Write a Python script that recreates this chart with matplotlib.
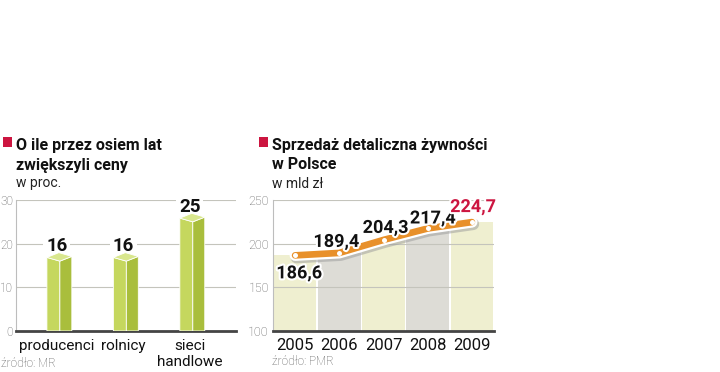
import matplotlib
matplotlib.use("Agg")
import matplotlib.pyplot as plt
from matplotlib.patches import Polygon, Rectangle
import matplotlib.patheffects as pe

plt.rcParams['font.family'] = ['Roboto', 'DejaVu Sans']

# ---- data ----
categories = ['producenci', 'rolnicy', 'sieci\nhandlowe']
price_rise = [16, 16, 25]
left_ticks = [0, 10, 20, 30]

years = ['2005', '2006', '2007', '2008', '2009']
sales = [186.6, 189.4, 204.3, 217.4, 224.7]
sales_labels = ['186,6', '189,4', '204,3', '217,4', '224,7']
right_ticks = [100, 150, 200, 250]

W, H = 720, 372
fig = plt.figure(figsize=(W / 100, H / 100), dpi=100)


def fx(x):
    return x / W


def fy(y):
    return 1 - y / H


def axrect(x0, x1, y0, y1):
    return [fx(x0), fy(y1), fx(x1) - fx(x0), (y1 - y0) / H]


RED = '#cc1540'
GRID = '#c4c4bc'
TICKC = '#5a5a5a'

# ---------------- Left chart ----------------
axL = fig.add_axes(axrect(16, 236, 200, 331))
axL.set_xlim(-0.66, 2.65)
axL.set_ylim(0, 30)
for s in ['top', 'right']:
    axL.spines[s].set_visible(False)
axL.spines['left'].set_color('#bdbdbd')
axL.spines['left'].set_linewidth(0.8)
axL.spines['bottom'].set_color('#444444')
axL.spines['bottom'].set_linewidth(2)
axL.set_yticks(left_ticks)
axL.set_yticklabels([str(t) for t in left_ticks], color=TICKC, fontsize=8.5, fontweight='light')
axL.tick_params(axis='y', length=0, pad=2)
axL.set_xticks([])
for t in left_ticks[1:]:
    axL.axhline(t, color=GRID, lw=0.8, zorder=1)

upx = 30 / 131.0
wl, wr = 0.195, 0.18
dl, dr, db = 3.7 * upx, 4.7 * upx, 8.5 * upx
FRONT, SIDE, TOP = '#c5d75e', '#a9be3c', '#d9e78e'
for i, v in enumerate(price_rise):
    c = i
    left_face = [(c - wl, 0), (c, 0), (c, v), (c - wl, v + dl)]
    right_face = [(c, 0), (c + wr, 0), (c + wr, v + dr), (c, v)]
    top_face = [(c - wl, v + dl), (c, v), (c + wr, v + dr), (c + wr - wl, v + db)]
    for pts, col in [(left_face, FRONT), (right_face, SIDE), (top_face, TOP)]:
        axL.add_patch(Polygon(pts, closed=True, facecolor=col, edgecolor='white',
                              lw=0.6, zorder=3, joinstyle='miter'))
    axL.annotate(str(v), xy=(c, v), xytext=(-3, 15), textcoords='offset pixels',
                 ha='center', va='center', fontsize=13.5, fontweight='bold',
                 color='#111111', zorder=2,
                 bbox=dict(boxstyle='square,pad=0.15', fc='white', ec='none'))

for i, lab in enumerate(categories):
    xp = axL.transData.transform((i, 0))[0]
    lines = lab.split('\n')
    for j, ln in enumerate(lines):
        fig.text(xp / W - 3 / W, fy(350 + 16 * j), ln, ha='center', va='baseline',
                 fontsize=11, color='#111111')

fig.patches.append(Rectangle((fx(3), fy(147)), 9 / W, 10 / H, transform=fig.transFigure,
                             facecolor=RED, edgecolor='none'))
fig.text(fx(16), fy(150), 'O ile przez osiem lat', fontsize=11.5, fontweight='bold',
         va='baseline', ha='left', color='#111111')
fig.text(fx(16), fy(170), 'zwiększyli ceny', fontsize=11.5, fontweight='bold',
         va='baseline', ha='left', color='#111111')
fig.text(fx(16), fy(187), 'w proc.', fontsize=10, va='baseline', ha='left', color='#222222')
fig.text(fx(1), fy(367), 'źródło: MR', fontsize=8.5, va='baseline', ha='left',
         color='#555555', fontweight='light')

# ---------------- Right chart ----------------
axR = fig.add_axes(axrect(273, 494, 200, 331))
axR.set_xlim(-0.5, 4.5)
axR.set_ylim(100, 250)
for s in ['top', 'right']:
    axR.spines[s].set_visible(False)
axR.spines['left'].set_color('#bdbdbd')
axR.spines['left'].set_linewidth(0.8)
axR.spines['bottom'].set_color('#444444')
axR.spines['bottom'].set_linewidth(2)
axR.set_yticks(right_ticks)
axR.set_yticklabels([str(t) for t in right_ticks], color=TICKC, fontsize=9, fontweight='light')
axR.tick_params(axis='y', length=0, pad=3)
axR.set_xticks(range(len(years)))
axR.set_xticklabels(years, fontsize=12, color='#111111')
axR.tick_params(axis='x', length=0, pad=5)

col_colors = ['#efefd0', '#dddcd6', '#efefd0', '#dddcd6', '#efefd0']
axR.bar(range(len(years)), [v - 100 for v in sales], bottom=100, width=0.96,
        color=col_colors, edgecolor='none', zorder=1)
for t in right_ticks[1:]:
    axR.axhline(t, color=GRID, lw=0.8, zorder=2)

x = list(range(len(years)))
axR.plot(x, sales, color='#e8902a', lw=4.8, solid_capstyle='round', solid_joinstyle='round',
         zorder=4,
         path_effects=[pe.SimpleLineShadow(offset=(1, -1.5), shadow_color='#999999', alpha=0.5, linewidth=8.5),
                       pe.Stroke(linewidth=8, foreground='white'), pe.Normal()])
axR.plot(x, sales, 'o', color='white', ms=3.6, mec='none', zorder=5)

label_offsets = [(4, -18), (-3, 11), (2, 12), (5, 10), (1, 15)]
label_colors = ['#111111', '#111111', '#111111', '#111111', RED]
for xi, v, lab, off, c in zip(x, sales, sales_labels, label_offsets, label_colors):
    axR.annotate(lab, xy=(xi, v), xytext=off, textcoords='offset pixels',
                 ha='center', va='center', fontsize=13, fontweight='bold', color=c, zorder=6,
                 path_effects=[pe.withStroke(linewidth=3, foreground='white')])

fig.patches.append(Rectangle((fx(259), fy(147)), 9 / W, 10 / H, transform=fig.transFigure,
                             facecolor=RED, edgecolor='none'))
fig.text(fx(272), fy(150), 'Sprzedaż detaliczna żywności', fontsize=11.5, fontweight='bold',
         va='baseline', ha='left', color='#111111')
fig.text(fx(272), fy(169), 'w Polsce', fontsize=11.5, fontweight='bold',
         va='baseline', ha='left', color='#111111')
fig.text(fx(272), fy(188), 'w mld zł', fontsize=10, va='baseline', ha='left', color='#222222')
fig.text(fx(272), fy(365), 'źródło: PMR', fontsize=8.5, va='baseline', ha='left',
         color='#555555', fontweight='light')

fig.savefig('out.png', dpi=100, facecolor='white')
